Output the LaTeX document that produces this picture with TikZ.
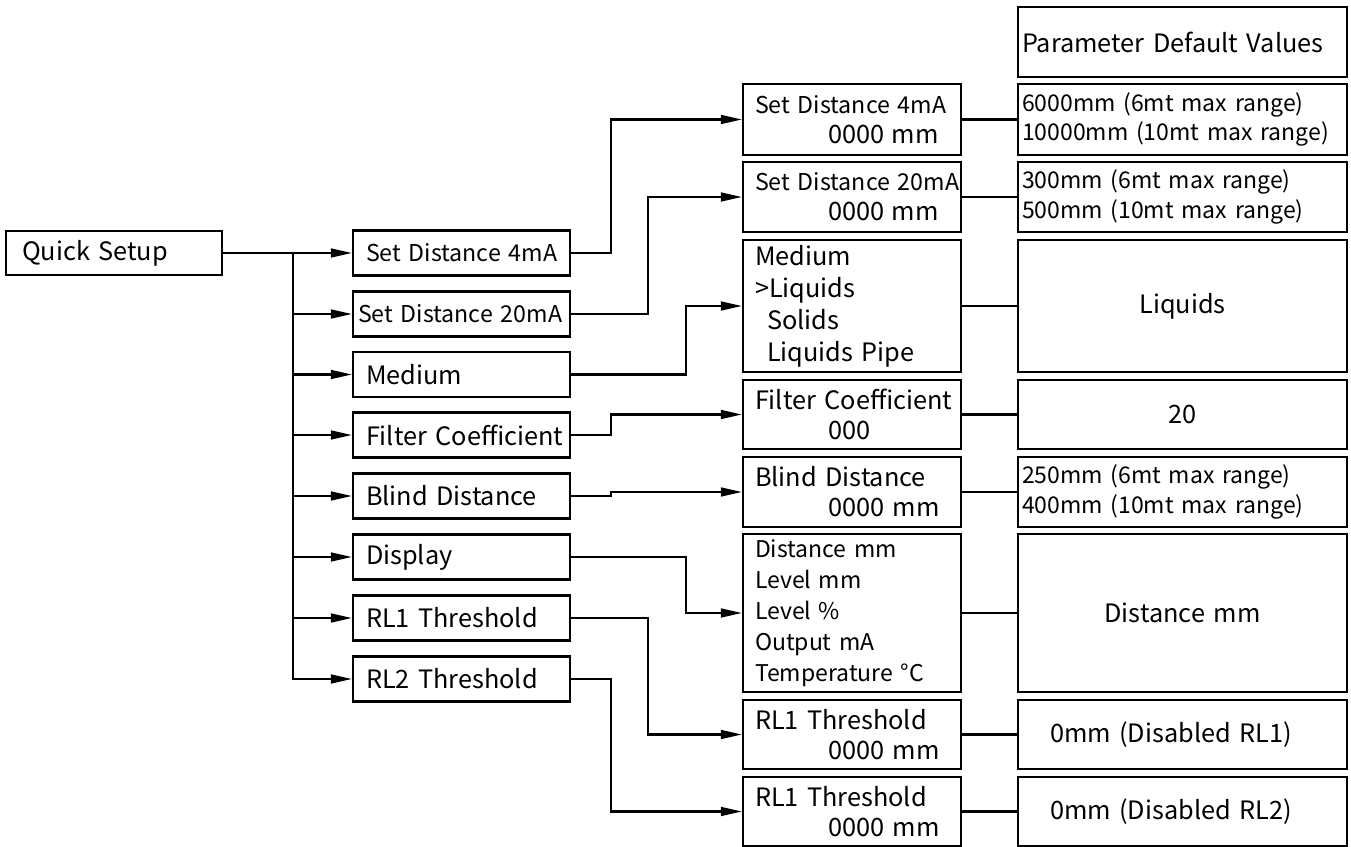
\documentclass[tikz,border=0pt]{standalone}
\usepackage{fontspec}
\setmainfont{Noto Sans CJK SC}
\usetikzlibrary{arrows.meta}

\begin{document}
\begin{tikzpicture}[x=0.02cm, y=-0.02cm, >={Triangle[length=12pt,width=5pt]},
  every node/.style={font=\fontsize{14.4}{17}\selectfont},
  box/.style={draw, line width=1.2pt, inner ysep=0pt, align=left},
  lone/.style={box, text width=3.68cm, inner xsep=0.32cm, minimum height=0.88cm},
  ltwo/.style={box, text width=3.82cm, inner xsep=0.26cm, minimum height=0.9cm},
  lthree/.style={box, text width=3.88cm, inner xsep=0.24cm, minimum height=#1},
  lfour/.style={box, text width=6.42cm, inner xsep=0.08cm, minimum height=#1},
  setdist/.style={font=\fontsize{13.2}{17}\selectfont},
  link/.style={line width=1.2pt}]
\useasboundingbox (0,0) rectangle (1351,847);

\node[lone] (qs) at (114,253) {Quick Setup};

\node[ltwo, setdist] (sd4) at (461.5,253) {\mbox{Set Distance 4mA}};
\node[ltwo, setdist, inner xsep=0.1cm, text width=4.14cm] (sd20) at (461.5,314) {\mbox{Set Distance 20mA}};
\node[ltwo] (med) at (461.5,374.5) {Medium};
\node[ltwo] (flt) at (461.5,435) {\mbox{Filter Coefficient}};
\node[ltwo] (bld) at (461.5,496) {Blind Distance};
\node[ltwo] (dsp) at (461.5,557) {Display};
\node[ltwo] (rla) at (461.5,618) {RL1 Threshold};
\node[ltwo] (rlb) at (461.5,679) {RL2 Threshold};

\node[lthree=1.42cm, setdist] (sd4set) at (852,119.5) {\mbox{Set Distance 4mA}\\\hspace*{1.46cm}\fontsize{14.4}{17}\selectfont 0000 mm};
\node[lthree=1.40cm, setdist] (sd20set) at (852,197) {\mbox{Set Distance 20mA}\\\hspace*{1.46cm}\fontsize{14.4}{17}\selectfont 0000 mm};
\node[lthree=2.64cm, font=\fontsize{14.4}{18.2}\selectfont] (medset) at (852,306) {Medium\\>Liquids\\\hspace*{0.24cm}Solids\\\hspace*{0.24cm}Liquids Pipe};
\node[lthree=1.38cm] (fltset) at (852,414.5) {\mbox{Filter Coefficient}\\\hspace*{1.46cm}000};
\node[lthree=1.40cm] (bldset) at (852,492) {Blind Distance\\\hspace*{1.46cm}0000 mm};
\node[lthree=3.16cm, font=\fontsize{13.1}{17.6}\selectfont] (dspset) at (852,613) {Distance mm\\Level mm\\Level \%\\Output mA\\Temperature °C};
\node[lthree=1.38cm] (rlaset) at (852,734.5) {RL1 Threshold\\\hspace*{1.46cm}0000 mm};
\node[lthree=1.38cm] (rlbset) at (852,811.5) {RL1 Threshold\\\hspace*{1.46cm}0000 mm};

\node[lfour=1.40cm] (hdr) at (1182.5,42) {Parameter Default Values};
\node[lfour=1.42cm, font=\fontsize{13.1}{17}\selectfont] (sd4val) at (1182.5,119.5) {6000mm (6mt max range)\\10000mm (10mt max range)};
\node[lfour=1.40cm, font=\fontsize{13.1}{17}\selectfont] (sd20val) at (1182.5,197) {300mm (6mt max range)\\500mm (10mt max range)};
\node[lfour=2.64cm, align=center] (medval) at (1182.5,306) {Liquids};
\node[lfour=1.38cm, align=center] (fltval) at (1182.5,414.5) {20};
\node[lfour=1.40cm, font=\fontsize{13.1}{17}\selectfont] (bldval) at (1182.5,492) {250mm (6mt max range)\\400mm (10mt max range)};
\node[lfour=3.16cm, align=center] (dspval) at (1182.5,613) {Distance mm};
\node[lfour=1.38cm] (rlaval) at (1182.5,734.5) {\hspace*{0.56cm}0mm (Disabled RL1)};
\node[lfour=1.38cm] (rlbval) at (1182.5,811.5) {\hspace*{0.56cm}0mm (Disabled RL2)};

\coordinate (fork) at (293,253);
\draw[link,->] (qs) -- (sd4);
\foreach \n in {sd20,med,flt,bld,dsp,rla,rlb}
  \draw[link,->] (fork) |- (\n.west);

\draw[link,->] (sd4.east) -- ++(40,0) |- (sd4set.west);
\draw[link,->] (sd20.east) -- ++(77,0) |- (sd20set.west);
\draw[link,->] (med.east) -- ++(115,0) |- (medset.west);
\draw[link,->] (flt.east) -- ++(40,0) |- (fltset.west);
\draw[link,->] (bld.east) -- ++(40,0) |- (bldset.west);
\draw[link,->] (dsp.east) -- ++(115,0) |- (dspset.west);
\draw[link,->] (rla.east) -- ++(77,0) |- (rlaset.west);
\draw[link,->] (rlb.east) -- ++(40,0) |- (rlbset.west);

\foreach \a/\b in {sd4set/sd4val,sd20set/sd20val,medset/medval,fltset/fltval,bldset/bldval,dspset/dspval,rlaset/rlaval,rlbset/rlbval}
  \draw[link] (\a) -- (\b);
\end{tikzpicture}
\end{document}
